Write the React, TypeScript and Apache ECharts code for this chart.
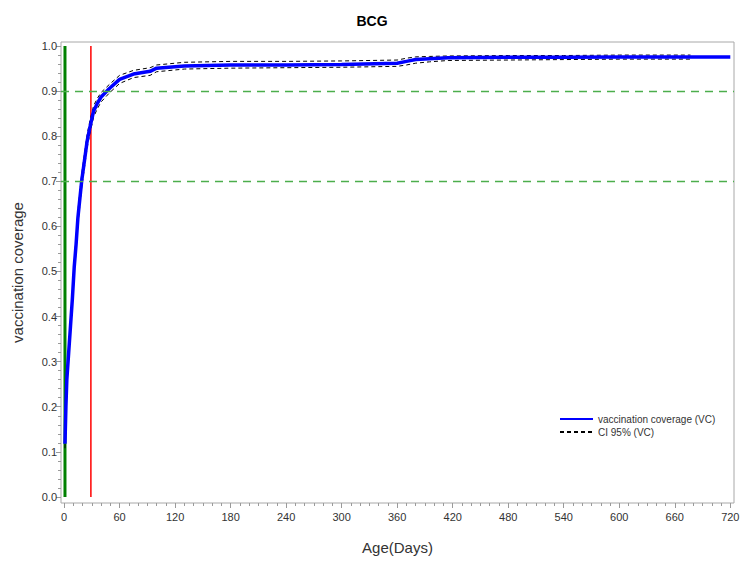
import { useEffect, useRef } from 'react';
import * as echarts from 'echarts';

// Cumulative BCG vaccination coverage by age (days)
const days = [1, 2, 3, 5, 7, 9, 11, 13, 15, 19, 22, 25, 28, 32, 36, 40, 49, 60, 75, 93, 100, 130, 180, 240, 300, 360, 370, 380, 395, 415, 480, 540, 600, 660, 677, 720];
const coverage = [0.118, 0.2, 0.26, 0.32, 0.38, 0.44, 0.51, 0.56, 0.62, 0.7, 0.745, 0.79, 0.82, 0.856, 0.873, 0.887, 0.906, 0.926, 0.938, 0.944, 0.951, 0.956, 0.958, 0.958, 0.959, 0.962, 0.966, 0.97, 0.972, 0.974, 0.975, 0.975, 0.976, 0.976, 0.976, 0.976];

// 95% confidence band
const ciDays = [1, 2, 3, 5, 7, 9, 11, 13, 15, 19, 22, 25, 28, 32, 36, 40, 49, 60, 75, 93, 100, 130, 180, 240, 300, 360, 370, 380, 395, 415, 480, 540, 600, 677];
const ciUpper = [0.13, 0.215, 0.275, 0.335, 0.395, 0.455, 0.525, 0.575, 0.635, 0.715, 0.76, 0.805, 0.835, 0.868, 0.884, 0.897, 0.915, 0.935, 0.946, 0.952, 0.958, 0.964, 0.966, 0.966, 0.967, 0.969, 0.973, 0.976, 0.977, 0.978, 0.979, 0.979, 0.98, 0.98];
const ciLower = [0.108, 0.185, 0.245, 0.305, 0.365, 0.425, 0.495, 0.545, 0.605, 0.685, 0.73, 0.775, 0.806, 0.843, 0.861, 0.876, 0.896, 0.917, 0.93, 0.935, 0.943, 0.949, 0.951, 0.952, 0.953, 0.955, 0.958, 0.962, 0.965, 0.968, 0.969, 0.97, 0.971, 0.971];

// Reference markers
const birthDay = 1;
const cutoffDay = 29;
const targetLevels = [0.9, 0.7];

// Axis ticks
const xTicks = [0, 60, 120, 180, 240, 300, 360, 420, 480, 540, 600, 660, 720];
const yTicks = [0, 0.1, 0.2, 0.3, 0.4, 0.5, 0.6, 0.7, 0.8, 0.9, 1.0];
const xMinorTicks = Array.from({ length: 73 }, (_, i) => i * 10);
const yMinorTicks = Array.from({ length: 51 }, (_, i) => Math.round(i * 2) / 100);

// Axis extents (small padding around the data range)
const X_MIN = -3.3;
const X_MAX = 724;
const Y_MIN = -0.0135;
const Y_MAX = 1.009;

const FONT = '"Liberation Sans", Arial, sans-serif';
const AXIS_GRAY = '#9a9a9a';
const TEXT = '#333333';

export default function App() {
  const ref = useRef<HTMLDivElement>(null);

  useEffect(() => {
    if (!ref.current) return;
    const chart = echarts.init(ref.current, undefined, { renderer: 'svg' });

    const baseX = {
      type: 'value' as const,
      position: 'bottom' as const,
      min: X_MIN,
      max: X_MAX,
      splitLine: { show: false },
      axisLine: { show: false, onZero: false },
    };
    const baseY = {
      type: 'value' as const,
      position: 'left' as const,
      min: Y_MIN,
      max: Y_MAX,
      splitLine: { show: false },
      axisLine: { show: false, onZero: false },
    };

    chart.setOption({
      animation: false,
      textStyle: { fontFamily: FONT },
      title: {
        text: 'BCG',
        left: 'center',
        top: 9,
        textStyle: { fontSize: 14, fontWeight: 'bold', color: '#000', fontFamily: FONT },
      },
      grid: {
        left: 61,
        right: 10,
        top: 42,
        bottom: 59,
        show: true,
        borderColor: '#a8a8a8',
        borderWidth: 1,
        backgroundColor: '#fff',
      },
      legend: {
        orient: 'vertical',
        left: 554,
        top: 409,
        itemWidth: 33,
        itemHeight: 12,
        itemGap: 3,
        itemStyle: { opacity: 0 },
        data: ['vaccination coverage (VC)', 'CI 95% (VC)'],
        textStyle: { fontSize: 10, color: TEXT, fontFamily: FONT },
      },
      xAxis: [
        {
          ...baseX,
          name: 'Age(Days)',
          nameLocation: 'middle',
          nameGap: 37,
          nameTextStyle: { fontSize: 15, color: TEXT, fontFamily: FONT },
          axisTick: { show: true, length: 5, customValues: xTicks, lineStyle: { color: AXIS_GRAY } },
          axisLabel: {
            customValues: xTicks,
            margin: 8,
            fontSize: 11,
            color: TEXT,
            fontFamily: FONT,
          },
        },
        {
          ...baseX,
          axisTick: { show: true, length: 3, customValues: xMinorTicks, lineStyle: { color: AXIS_GRAY } },
          axisLabel: { show: false },
        },
      ],
      yAxis: [
        {
          ...baseY,
          name: 'vaccination coverage',
          nameLocation: 'middle',
          nameGap: 36,
          nameTextStyle: { fontSize: 15, color: TEXT, fontFamily: FONT },
          axisTick: { show: true, length: 5, customValues: yTicks, lineStyle: { color: AXIS_GRAY } },
          axisLabel: {
            customValues: yTicks,
            margin: 4,
            fontSize: 11,
            color: TEXT,
            fontFamily: FONT,
            formatter: (v: number) => v.toFixed(1),
          },
        },
        {
          ...baseY,
          axisTick: { show: true, length: 3, customValues: yMinorTicks, lineStyle: { color: AXIS_GRAY } },
          axisLabel: { show: false },
        },
      ],
      series: [
        {
          name: 'birth',
          type: 'line',
          symbol: 'none',
          silent: true,
          data: [[birthDay, 0], [birthDay, 1]],
          lineStyle: { color: '#008000', width: 3 },
          itemStyle: { color: '#008000' },
          z: 2,
        },
        {
          name: 'cutoff',
          type: 'line',
          symbol: 'none',
          silent: true,
          data: [[cutoffDay, 0], [cutoffDay, 1]],
          lineStyle: { color: '#ff0000', width: 1.5 },
          itemStyle: { color: '#ff0000' },
          z: 2,
          markLine: {
            silent: true,
            symbol: 'none',
            label: { show: false },
            lineStyle: { color: '#4cae4c', width: 1.3, type: [8, 6] },
            data: targetLevels.map((v) => ({ yAxis: v })),
          },
        },
        {
          name: 'CI 95% (VC)',
          type: 'line',
          symbol: 'none',
          data: ciDays.map((d, i) => [d, ciUpper[i]]),
          lineStyle: { color: '#000', width: 1, type: [4, 3] },
          itemStyle: { color: '#000' },
          z: 3,
        },
        {
          name: 'CI 95% (VC)',
          type: 'line',
          symbol: 'none',
          data: ciDays.map((d, i) => [d, ciLower[i]]),
          lineStyle: { color: '#000', width: 1, type: [4, 3] },
          itemStyle: { color: '#000' },
          z: 3,
        },
        {
          name: 'vaccination coverage (VC)',
          type: 'line',
          symbol: 'none',
          data: days.map((d, i) => [d, coverage[i]]),
          lineStyle: { color: '#0000ff', width: 3.5 },
          itemStyle: { color: '#0000ff' },
          z: 4,
        },
      ],
    });

    return () => chart.dispose();
  }, []);

  return (
    <div
      ref={ref}
      style={{ position: 'fixed', left: 0, top: 0, width: 744, height: 562, background: '#fff' }}
    />
  );
}
